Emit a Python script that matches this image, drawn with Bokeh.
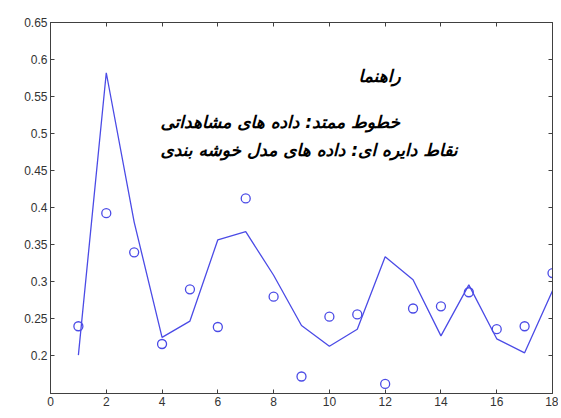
from bokeh.plotting import figure
from bokeh.models import LinearAxis, FixedTicker, Range1d, Label, CustomJSTickFormatter
from bokeh.embed import file_html
from bokeh.resources import INLINE

x_vals = list(range(1, 19))
observed = [0.200, 0.582, 0.380, 0.224, 0.246, 0.356, 0.367, 0.308, 0.240, 0.212,
            0.235, 0.333, 0.302, 0.226, 0.295, 0.222, 0.203, 0.287]
model = [0.239, 0.392, 0.339, 0.215, 0.289, 0.238, 0.412, 0.279, 0.171, 0.252,
         0.255, 0.161, 0.263, 0.266, 0.285, 0.235, 0.239, 0.311]

x_ticks = [0, 2, 4, 6, 8, 10, 12, 14, 16, 18]
y_ticks = [0.2, 0.25, 0.3, 0.35, 0.4, 0.45, 0.5, 0.55, 0.6, 0.65]
y_tick_labels = ["0.2", "0.25", "0.3", "0.35", "0.4", "0.45", "0.5", "0.55", "0.6", "0.65"]

legend_title = "راهنما"
legend_line1 = "خطوط ممتد: داده های مشاهداتی"
legend_line2 = "نقاط دایره ای: داده های مدل خوشه بندی"

BLUE = "#4b4be6"
AXIS = "#404040"

p = figure(width=558, height=412, output_backend="svg", toolbar_location=None,
           x_range=Range1d(0, 18), y_range=Range1d(0.148, 0.65),
           min_border_left=50, min_border_right=6, min_border_top=22, min_border_bottom=19)
p.xgrid.visible = False
p.ygrid.visible = False
p.outline_line_color = AXIS
p.background_fill_color = "white"
p.border_fill_color = "white"

p.line(x_vals, observed, line_color=BLUE, line_width=1.3)
p.scatter(x_vals, model, marker="circle", size=9, fill_color=None,
          line_color=BLUE, line_width=1.3)

def style(ax, labels=True):
    ax.axis_line_color = AXIS
    ax.major_tick_line_color = AXIS
    ax.major_tick_in = 4
    ax.major_tick_out = 0
    ax.minor_tick_line_color = None
    ax.major_label_text_font = "Liberation Sans"
    ax.major_label_text_font_size = "12px"
    ax.major_label_text_color = "#333333"
    ax.major_label_standoff = 3 if labels else 0
    if not labels:
        ax.formatter = CustomJSTickFormatter(code="return ''")

p.xaxis.ticker = FixedTicker(ticks=x_ticks)
p.yaxis.ticker = FixedTicker(ticks=y_ticks)
p.yaxis.major_label_overrides = {t: s for t, s in zip(y_ticks, y_tick_labels)}
style(p.xaxis[0])
style(p.yaxis[0])

top = LinearAxis(ticker=FixedTicker(ticks=x_ticks))
right = LinearAxis(ticker=FixedTicker(ticks=y_ticks))
style(top, labels=False)
style(right, labels=False)
p.add_layout(top, "above")
p.add_layout(right, "right")

for txt, xx, yy, align in [(legend_title, 11.8, 0.578, "center"),
                           (legend_line1, 3.94, 0.515, "left"),
                           (legend_line2, 3.94, 0.477, "left")]:
    p.add_layout(Label(x=xx, y=yy, text=txt, text_font="DejaVu Sans",
                       text_font_style="bold italic", text_font_size="17px",
                       text_color="black", text_align=align, text_baseline="middle"))

open("out.html", "w").write(file_html(p, INLINE))
